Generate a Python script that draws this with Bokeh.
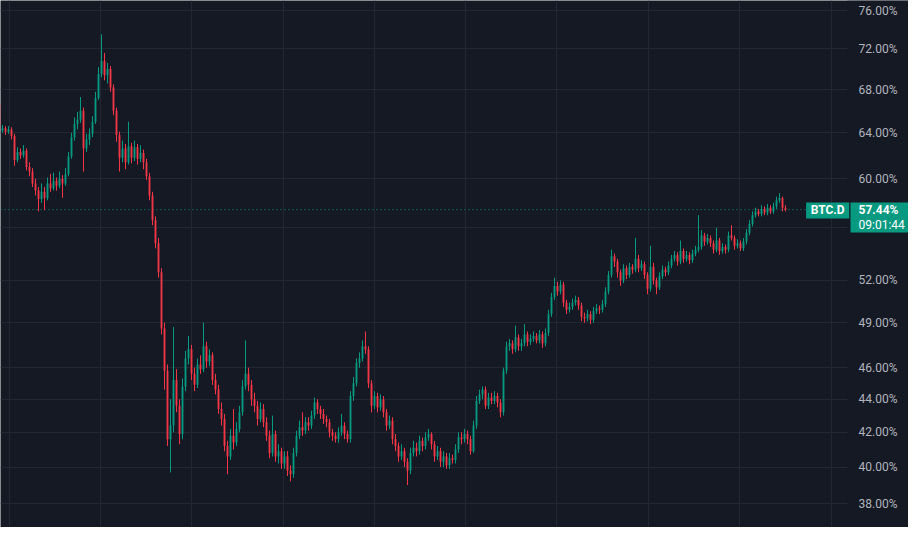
import math
from bokeh.plotting import figure
from bokeh.models import FixedTicker, Span, Range1d, ColumnDataSource
from bokeh.core.properties import value
from bokeh.embed import file_html
from bokeh.resources import INLINE

# ---------------- data (BTC dominance, %) ----------------
symbol = "BTC.D"
last_price_text = "57.44%"
countdown_text = "09:01:44"
first_open = 66.6

close = [
    65.9, 64.6, 64.2, 64.4, 64.1, 64.3, 63.7, 61.6, 62.3, 62.0,
    62.4, 61.0, 60.6, 59.6, 59.0, 58.3, 58.9, 58.4, 59.6, 59.2,
    59.8, 59.4, 60.0, 59.6, 60.4, 61.9, 63.6, 64.8, 65.2, 66.0,
    62.6, 63.4, 63.9, 65.0, 67.2, 69.5, 70.8, 69.4, 70.0, 68.2,
    66.0, 63.8, 61.8, 62.6, 61.4, 62.8, 61.8, 62.7, 61.7, 62.2,
    61.4, 60.2, 58.6, 56.6, 54.8, 52.6, 48.6, 45.8, 41.6, 42.4,
    45.2, 43.6, 41.9, 44.8, 46.6, 47.2, 45.6, 44.9, 46.2, 45.9,
    47.4, 46.4, 46.8, 45.2, 44.6, 43.4, 42.8, 41.2, 40.6, 41.8,
    41.4, 42.2, 43.2, 44.8, 45.6, 44.9, 44.0, 43.6, 42.8, 43.4,
    42.6, 41.8, 40.8, 41.9, 40.6, 40.9, 40.2, 40.6, 39.8, 39.6,
    40.8, 41.8, 42.3, 42.1, 42.6, 42.4, 43.0, 43.8, 43.4, 43.1,
    42.8, 42.6, 42.0, 41.8, 41.6, 42.0, 42.4, 41.9, 41.6, 44.2,
    45.0, 46.3, 46.6, 47.4, 47.2, 45.0, 43.6, 44.2, 43.5, 44.0,
    43.2, 42.4, 42.7, 41.6, 41.2, 40.6, 40.9, 40.3, 39.8, 40.8,
    41.1, 40.9, 41.5, 41.2, 41.7, 41.9, 41.3, 40.6, 40.9, 40.3,
    40.6, 40.1, 40.5, 40.4, 41.0, 41.7, 41.6, 41.9, 41.6, 40.9,
    42.4, 43.9, 44.3, 44.6, 43.6, 44.1, 43.9, 44.2, 43.8, 43.2,
    45.8, 47.4, 47.6, 47.2, 48.0, 47.4, 47.6, 48.2, 47.7, 47.9,
    48.1, 47.8, 48.2, 47.6, 48.3, 49.6, 50.8, 51.6, 51.2, 51.7,
    50.4, 49.9, 50.1, 50.4, 50.6, 50.2, 49.4, 49.3, 49.6, 49.2,
    49.8, 50.0, 49.9, 50.3, 51.2, 52.4, 53.8, 53.4, 52.6, 52.0,
    52.9, 52.4, 53.0, 52.8, 53.6, 52.9, 53.2, 52.4, 51.4, 53.0,
    52.0, 51.5, 52.3, 52.8, 52.6, 53.1, 53.6, 53.9, 53.4, 54.2,
    53.6, 53.9, 53.5, 54.0, 54.3, 54.5, 55.4, 54.9, 55.2, 54.8,
    54.3, 55.0, 54.2, 54.5, 54.3, 55.4, 55.2, 54.6, 54.8, 54.4,
    54.9, 55.6, 56.3, 57.0, 57.3, 57.1, 57.5, 57.2, 57.6, 57.3,
    57.7, 58.2, 58.4, 57.6, 57.44,
]

high = [
    67.0, 66.1, 64.9, 64.7, 64.6, 64.6, 64.5, 63.9, 62.7, 62.6,
    62.9, 62.6, 61.4, 60.9, 60.0, 59.3, 59.6, 59.3, 60.1, 60.4,
    60.5, 60.1, 60.6, 60.3, 60.9, 62.3, 64.0, 65.4, 65.9, 67.3,
    66.3, 63.9, 64.4, 65.5, 67.8, 70.2, 73.5, 71.6, 70.6, 70.3,
    68.5, 66.3, 64.1, 63.3, 63.0, 65.0, 63.1, 63.3, 63.0, 62.9,
    62.5, 61.7, 60.5, 58.9, 56.9, 55.2, 52.9, 49.0, 46.2, 44.0,
    48.7, 45.9, 44.0, 45.3, 47.1, 48.1, 47.5, 46.0, 46.6, 46.8,
    49.0, 47.7, 47.2, 47.0, 45.6, 44.9, 43.8, 43.1, 41.5, 42.2,
    43.4, 42.6, 43.6, 45.2, 47.8, 46.0, 45.2, 44.4, 43.9, 43.8,
    43.7, 42.9, 42.1, 43.0, 42.1, 41.3, 41.1, 40.9, 40.9, 40.1,
    41.1, 42.1, 42.7, 43.2, 42.9, 42.9, 43.3, 44.1, 44.0, 43.6,
    43.4, 43.0, 42.8, 42.2, 42.0, 42.3, 43.1, 42.6, 42.1, 44.5,
    45.4, 46.6, 47.0, 47.8, 48.4, 47.4, 45.2, 44.5, 44.4, 44.3,
    44.2, 43.4, 43.0, 42.9, 41.9, 41.4, 41.3, 41.1, 40.5, 41.1,
    41.5, 41.4, 41.8, 41.7, 42.0, 42.2, 42.0, 41.5, 41.2, 41.1,
    40.9, 40.8, 40.8, 40.7, 41.3, 42.0, 42.0, 42.2, 42.1, 41.8,
    42.7, 44.2, 44.6, 44.8, 44.8, 44.4, 44.4, 44.5, 44.4, 44.0,
    46.0, 47.7, 47.9, 47.8, 48.8, 48.2, 47.9, 48.9, 48.4, 48.2,
    48.4, 48.3, 48.5, 48.4, 48.6, 49.9, 51.1, 52.2, 51.9, 52.0,
    51.9, 50.6, 50.4, 50.7, 50.9, 50.8, 50.4, 49.7, 49.9, 49.8,
    50.1, 50.3, 50.2, 50.6, 51.5, 52.7, 54.3, 54.0, 53.6, 52.8,
    53.2, 53.1, 53.3, 53.2, 55.2, 53.9, 53.5, 53.4, 52.6, 54.6,
    53.3, 52.2, 52.6, 53.1, 53.0, 53.4, 53.9, 54.2, 54.1, 55.0,
    54.4, 54.2, 54.1, 54.3, 54.6, 57.0, 55.8, 55.6, 55.5, 55.4,
    55.0, 56.0, 55.2, 54.8, 54.7, 55.7, 56.2, 55.4, 55.1, 55.0,
    55.2, 55.9, 56.6, 57.3, 57.6, 57.5, 57.8, 57.7, 57.9, 57.8,
    58.0, 58.5, 58.8, 58.5, 57.8,
]

low = [
    65.6, 64.3, 63.9, 64.0, 63.8, 63.9, 63.4, 61.1, 61.4, 61.7,
    61.8, 60.7, 60.2, 59.3, 58.6, 57.3, 58.0, 57.4, 58.2, 58.9,
    59.0, 59.0, 59.2, 58.4, 59.4, 60.2, 61.7, 63.3, 64.3, 64.9,
    60.6, 62.3, 62.9, 63.6, 64.8, 67.0, 69.2, 68.9, 68.6, 67.8,
    65.6, 63.2, 60.6, 61.4, 60.8, 61.2, 61.3, 61.5, 61.2, 61.4,
    60.8, 59.9, 58.2, 56.2, 54.4, 52.2, 48.2, 44.6, 41.2, 39.7,
    42.0, 43.2, 41.3, 41.6, 44.5, 46.2, 45.2, 44.5, 44.7, 45.6,
    45.7, 46.0, 46.1, 44.9, 44.3, 43.1, 42.4, 40.9, 39.6, 40.4,
    41.0, 41.2, 42.0, 43.0, 44.6, 44.5, 43.6, 43.2, 42.4, 42.6,
    42.3, 41.5, 40.5, 40.6, 40.3, 40.2, 39.9, 39.9, 39.5, 39.2,
    39.4, 40.6, 41.6, 41.8, 41.9, 42.1, 42.2, 42.8, 43.1, 42.8,
    42.5, 42.3, 41.7, 41.5, 41.4, 41.4, 41.8, 41.6, 41.4, 41.4,
    43.9, 44.8, 46.0, 46.4, 46.9, 44.7, 43.2, 43.4, 43.2, 43.3,
    42.9, 42.1, 42.2, 41.3, 40.9, 40.3, 40.4, 40.0, 39.0, 39.6,
    40.6, 40.6, 40.7, 40.9, 41.0, 41.5, 41.0, 40.3, 40.4, 40.0,
    40.0, 39.9, 39.9, 40.2, 40.2, 40.8, 41.3, 41.4, 41.3, 40.7,
    40.8, 42.2, 43.7, 44.0, 43.4, 43.4, 43.7, 43.7, 43.5, 42.9,
    43.0, 45.6, 47.1, 46.9, 47.0, 47.1, 47.1, 47.4, 47.4, 47.5,
    47.7, 47.6, 47.6, 47.3, 47.4, 48.1, 49.4, 50.6, 50.9, 51.0,
    50.1, 49.6, 49.7, 49.9, 50.2, 49.9, 49.1, 49.0, 49.1, 48.9,
    49.0, 49.6, 49.6, 49.7, 50.1, 51.0, 52.2, 53.0, 52.2, 51.6,
    51.8, 52.1, 52.2, 52.5, 52.6, 52.6, 52.7, 52.1, 51.0, 51.2,
    51.7, 51.0, 51.3, 52.1, 52.3, 52.4, 52.9, 53.4, 53.1, 53.2,
    53.3, 53.4, 53.2, 53.3, 53.8, 54.1, 54.3, 54.6, 54.7, 54.5,
    54.0, 54.1, 53.9, 54.0, 54.0, 54.1, 55.0, 54.3, 54.4, 54.2,
    54.2, 54.7, 55.4, 56.1, 56.8, 56.9, 56.9, 57.0, 57.0, 57.1,
    57.1, 57.5, 58.0, 57.3, 57.3,
]

price_ticks = [38, 40, 42, 44, 46, 49, 52, 56, 60, 64, 68, 72, 76]
labelled_ticks = [38, 40, 42, 44, 46, 49, 52, 60, 64, 68, 72, 76]
tick_labels = ["38.00%", "40.00%", "42.00%", "44.00%", "46.00%", "49.00%", "52.00%",
               "60.00%", "64.00%", "68.00%", "72.00%", "76.00%"]
time_grid = [5.333, 35.667, 66.0, 96.667, 127.0, 157.333, 187.667, 218.333, 248.667, 279.333]

assert len(close) == len(high) == len(low), (len(close), len(high), len(low))

# ---------------- styling / geometry ----------------
BG = "#151924"
GRID = "#232733"
UP = "#089981"
DOWN = "#f23645"
TXT = "#b2b5be"
FONT = "Roboto"
W, H = 908, 527
X0, X1 = 2.3333, 305.0          # bar-index range across the whole canvas
Y0, Y1 = 36.74, 77.08           # log price range


def xpx(fx):
    """bar-index position at a horizontal pixel of the canvas"""
    return X0 + fx / W * (X1 - X0)


def ypx(fy):
    """price at a vertical pixel (from the top) of the canvas, log scale"""
    return math.exp(math.log(Y1) - fy / H * (math.log(Y1) - math.log(Y0)))


n = len(close)
idx = list(range(n))
opens = [first_open] + close[:-1]
colors = [UP if c >= o else DOWN for o, c in zip(opens, close)]
tops = [max(o, c) for o, c in zip(opens, close)]
bots = [min(o, c) for o, c in zip(opens, close)]

src = ColumnDataSource(dict(x=idx, o=opens, c=close, h=high, l=low,
                            top=tops, bot=bots, color=colors))

p = figure(width=W, height=H, output_backend="svg", toolbar_location=None,
           y_axis_type="log", y_axis_location="right",
           x_range=Range1d(X0, X1), y_range=Range1d(Y0, Y1),
           background_fill_color=BG, border_fill_color=BG,
           min_border=0, outline_line_color=None)

# grid (axes themselves are hidden; the price scale is drawn inside the canvas)
p.xaxis.visible = False
p.yaxis.visible = False
p.xgrid.ticker = FixedTicker(ticks=time_grid)
p.ygrid.ticker = FixedTicker(ticks=price_ticks)
p.xgrid.grid_line_color = GRID
p.ygrid.grid_line_color = GRID

last = close[-1]
p.add_layout(Span(location=last, dimension="width", line_color=UP,
                  line_width=1, line_dash="1 3", level="underlay"))

# candles
p.segment(x0="x", y0="h", x1="x", y1="l", color="color", line_width=1, source=src)
p.vbar(x="x", top="top", bottom="bot", width=0.62, fill_color="color",
       line_color=None, source=src)

# price scale panel
p.quad(left=[xpx(847)], right=[xpx(W + 2)], bottom=[Y0], top=[Y1],
       fill_color=BG, line_color=None)
p.text(x=[xpx(858)] * len(labelled_ticks), y=labelled_ticks, text=tick_labels,
       text_font=value(FONT), text_font_size=value("12px"), text_color=TXT,
       text_align="left", text_baseline="middle")

# symbol tag and last-price tag
p.quad(left=[xpx(805.6)], right=[xpx(848.7)], bottom=[ypx(218)], top=[ypx(202)],
       fill_color=UP, line_color=None)
p.text(x=[xpx(827.2)], y=[last], text=[symbol], text_font=value(FONT),
       text_font_size=value("12px"), text_font_style="bold", text_color="#ffffff",
       text_align="center", text_baseline="middle")

p.quad(left=[xpx(850)], right=[xpx(W + 2)], bottom=[ypx(232)], top=[ypx(202)],
       fill_color=UP, line_color=None)
p.text(x=[xpx(858)], y=[last], text=[last_price_text], text_font=value(FONT),
       text_font_size=value("12px"), text_font_style="bold", text_color="#ffffff",
       text_align="left", text_baseline="middle")
p.text(x=[xpx(858)], y=[ypx(224)], text=[countdown_text], text_font=value(FONT),
       text_font_size=value("12px"), text_color="#ffffff",
       text_align="left", text_baseline="middle")

open("out.html", "w").write(file_html(p, INLINE))
